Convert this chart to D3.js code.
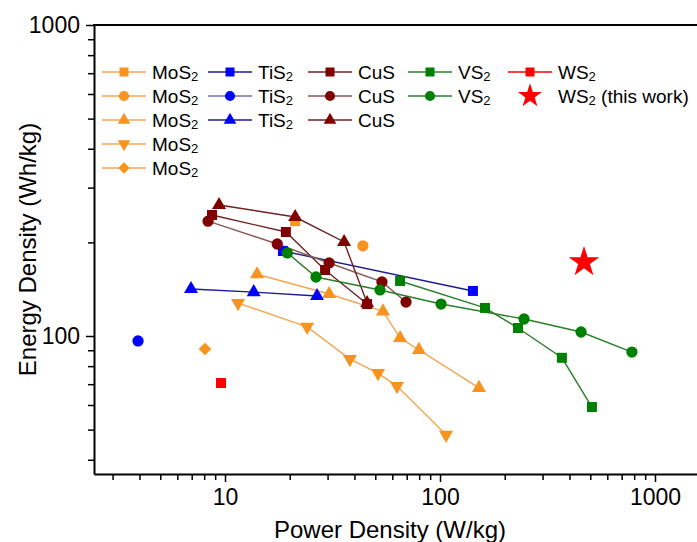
<!DOCTYPE html>
<html>
<head>
<meta charset="utf-8">
<script src="https://cdn.jsdelivr.net/npm/d3@7"></script>
<style>
  body { margin: 0; background: #fff; }
  svg { font-family: "Liberation Sans", Arial, sans-serif; }
</style>
</head>
<body>
<svg id="chart" width="697" height="542"></svg>
<script>
// power density (W/kg), energy density (Wh/kg)
const mos2Square   = [[21.2, 234]];
const mos2Circle   = [[43.8, 195]];
const mos2Triangle = [[14.1, 158], [30.5, 136.5], [54.3, 120], [65.2, 98.5], [79.8, 90.2], [151.8, 68.1]];
const mos2Down     = [[11.5, 127.6], [24.1, 107], [38.1, 84.3], [51.5, 76.0], [63.1, 69.0], [106.7, 48.1]];
const mos2Diamond  = [[8.07, 90.8]];
const tis2Square   = [[18.6, 187.6], [142.3, 139.6]];
const tis2Circle   = [[3.94, 96.4]];
const tis2Triangle = [[6.95, 141.6], [13.6, 138.4], [26.8, 134.4]];
const cusSquare    = [[8.7, 245], [19.2, 216], [29.2, 163], [45.8, 126.7]];
const cusCircle    = [[8.34, 234], [17.5, 197.6], [30.5, 171.7], [53.7, 149.2], [69.5, 128.6]];
const cusTriangle  = [[9.38, 263.8], [21.2, 241.3], [35.8, 200.6], [45.8, 127.6]];
const vs2Square    = [[65.2, 150.3], [161.9, 123.1], [230.6, 106.1], [369, 85.1], [509, 59.1]];
const vs2Circle    = [[19.5, 185], [26.5, 154.8], [52.6, 140.6], [101.1, 126.7], [246, 113.4], [453, 103], [781, 88.8]];
const ws2Square    = [[9.58, 70.6]];
const ws2Star      = [[467.5, 172.8]];

const xTickLabels = [10, 100, 1000];
const yTickLabels = [100, 1000];

const legendNames = ["MoS", "MoS", "MoS", "MoS", "MoS", "TiS", "TiS", "TiS", "CuS", "CuS", "CuS", "VS", "VS", "WS", "WS"];

// styles
const ORANGE = "#f7931e", ORANGE_L = "#f2a650";
const BLUE = "#0000ff", BLUE_L = "#1c1c8f";
const BROWN = "#800000", BROWN_L = "#6e2222";
const GREEN = "#008000", GREEN_L = "#2a7f2a";
const RED = "#ff0000";

const series = [
  {data: mos2Square,   shape: "square",   fill: ORANGE, line: ORANGE_L, col: 0, row: 0, sub: true},
  {data: mos2Circle,   shape: "circle",   fill: ORANGE, line: ORANGE_L, col: 0, row: 1, sub: true},
  {data: mos2Triangle, shape: "triangle", fill: ORANGE, line: ORANGE_L, col: 0, row: 2, sub: true},
  {data: mos2Down,     shape: "down",     fill: ORANGE, line: ORANGE_L, col: 0, row: 3, sub: true},
  {data: mos2Diamond,  shape: "diamond",  fill: ORANGE, line: ORANGE_L, col: 0, row: 4, sub: true},
  {data: tis2Square,   shape: "square",   fill: BLUE,   line: BLUE_L,   col: 1, row: 0, sub: true},
  {data: tis2Circle,   shape: "circle",   fill: BLUE,   line: "#6f72b5", col: 1, row: 1, sub: true},
  {data: tis2Triangle, shape: "triangle", fill: BLUE,   line: BLUE_L,   col: 1, row: 2, sub: true},
  {data: cusSquare,    shape: "square",   fill: BROWN,  line: BROWN_L,  col: 2, row: 0, sub: false},
  {data: cusCircle,    shape: "circle",   fill: BROWN,  line: "#8a5555", col: 2, row: 1, sub: false},
  {data: cusTriangle,  shape: "triangle", fill: BROWN,  line: BROWN_L,  col: 2, row: 2, sub: false},
  {data: vs2Square,    shape: "square",   fill: GREEN,  line: GREEN_L,  col: 3, row: 0, sub: true},
  {data: vs2Circle,    shape: "circle",   fill: GREEN,  line: GREEN_L,  col: 3, row: 1, sub: true},
  {data: ws2Square,    shape: "square",   fill: RED,    line: RED,      col: 4, row: 0, sub: true},
  {data: ws2Star,      shape: "star",     fill: RED,    line: null,     col: 4, row: 1, sub: true, extra: " (this work)"}
];
series.forEach((s, i) => s.name = legendNames[i]);

const symbolPath = {
  square:   d3.symbol(d3.symbolSquare, 100)(),
  circle:   d3.symbol(d3.symbolCircle, 100)(),
  triangle: d3.symbol(d3.symbolTriangle, 85)(),
  down:     d3.symbol(d3.symbolTriangle, 85)(),
  diamond:  d3.symbol(d3.symbolSquare, 80)(),
  star:     d3.symbol(d3.symbolStar, 290)()
};
const symbolRotate = {down: 180, diamond: 45};

const box = {left: 94, top: 25, right: 700, bottom: 474};

const svg = d3.select("#chart");

const x = d3.scaleLog()
  .domain([Math.pow(10, 1 - 131 / 215), Math.pow(10, 3 + 45 / 215)])
  .range([box.left, box.right]);
const y = d3.scaleLog()
  .domain([Math.pow(10, 2 - 138 / 311), 1000])
  .range([box.bottom, box.top]);

// minor + major ticks
const xTicks = [];
[1, 10, 100, 1000].forEach(b => { for (let k = 1; k < 10; k++) xTicks.push(b * k); });
const xTicksIn = xTicks.filter(v => v >= x.domain()[0] && v <= x.domain()[1]);
const yTicks = [];
[10, 100].forEach(b => { for (let k = 1; k < 10; k++) yTicks.push(b * k); });
yTicks.push(1000);
const yTicksIn = yTicks.filter(v => v >= y.domain()[0] && v <= y.domain()[1]);

const xAxis = d3.axisBottom(x)
  .tickValues(xTicksIn)
  .tickSize(8)
  .tickSizeOuter(0)
  .tickPadding(7)
  .tickFormat(d => xTickLabels.includes(d) ? d : "");
const yAxis = d3.axisLeft(y)
  .tickValues(yTicksIn)
  .tickSize(8)
  .tickSizeOuter(0)
  .tickPadding(6)
  .tickFormat(d => yTickLabels.includes(d) ? d : "");

const xAxisG = svg.append("g")
  .attr("transform", `translate(0,${box.bottom})`)
  .call(xAxis);
xAxisG.selectAll(".tick line")
  .attr("y2", d => xTickLabels.includes(d) ? 8 : 6);

const yAxisG = svg.append("g")
  .attr("transform", `translate(${box.left},0)`)
  .call(yAxis);
yAxisG.selectAll(".tick line")
  .attr("x2", d => yTickLabels.includes(d) ? -8 : -6);

[xAxisG, yAxisG].forEach(g => {
  g.select(".domain").attr("stroke", "#000").attr("stroke-width", 2);
  g.selectAll(".tick line").attr("stroke", "#000").attr("stroke-width", 1.5);
  g.selectAll(".tick text")
    .attr("fill", "#000")
    .style("font-size", "23px")
    .style("font-family", "'Liberation Sans', Arial, sans-serif");
});

// top border
svg.append("line")
  .attr("x1", box.left - 1).attr("x2", box.right)
  .attr("y1", box.top).attr("y2", box.top)
  .attr("stroke", "#000").attr("stroke-width", 2);

// axis titles
svg.append("text")
  .attr("x", 390).attr("y", 538)
  .attr("text-anchor", "middle")
  .style("font-size", "24px")
  .text("Power Density (W/kg)");
svg.append("text")
  .attr("transform", `translate(36,${(box.top + box.bottom) / 2}) rotate(-90)`)
  .attr("text-anchor", "middle")
  .style("font-size", "24px")
  .text("Energy Density (Wh/kg)");

// data
const plot = svg.append("g");
const line = d3.line().x(d => x(d[0])).y(d => y(d[1]));

series.forEach(s => {
  if (s.data.length > 1 && s.line) {
    plot.append("path")
      .datum(s.data)
      .attr("d", line)
      .attr("fill", "none")
      .attr("stroke", s.line)
      .attr("stroke-width", 1.4);
  }
});
series.forEach(s => {
  plot.selectAll(null)
    .data(s.data)
    .join("path")
    .attr("d", symbolPath[s.shape])
    .attr("transform", d => `translate(${x(d[0])},${y(d[1])}) rotate(${symbolRotate[s.shape] || 0})`)
    .attr("fill", s.fill);
});

// legend
const colX = [102, 208, 308, 408, 508];
const rowY = [72, 96, 120, 144, 168];
const legend = svg.append("g");
series.forEach(s => {
  const lx = colX[s.col], ly = rowY[s.row];
  if (s.line) {
    legend.append("line")
      .attr("x1", lx).attr("x2", lx + 44)
      .attr("y1", ly).attr("y2", ly)
      .attr("stroke", s.line).attr("stroke-width", 1.4);
  }
  legend.append("path")
    .attr("d", s.shape === "star" ? d3.symbol(d3.symbolStar, 180)() : symbolPath[s.shape])
    .attr("transform", `translate(${lx + 22},${ly}) rotate(${symbolRotate[s.shape] || 0}) scale(${s.shape === "star" ? 1 : 0.9})`)
    .attr("fill", s.fill);
  const t = legend.append("text")
    .attr("x", lx + 50).attr("y", ly + 7)
    .style("font-size", "19px")
    .text(s.name);
  if (s.sub) {
    t.append("tspan").attr("dy", 2).style("font-size", "13px").text("2");
    if (s.extra) t.append("tspan").attr("dy", -2).text(s.extra);
  }
});
</script>
</body>
</html>
